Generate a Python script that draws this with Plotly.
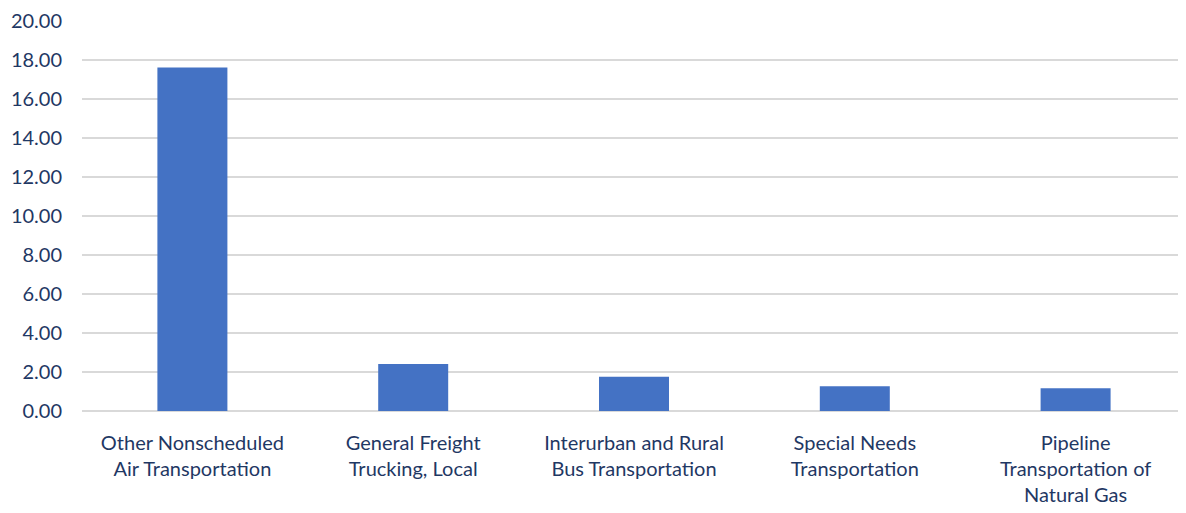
import plotly.graph_objects as go

categories = [
    "Other Nonscheduled<br>Air Transportation",
    "General Freight<br>Trucking, Local",
    "Interurban and Rural<br>Bus Transportation",
    "Special Needs<br>Transportation",
    "Pipeline<br>Transportation of<br>Natural Gas",
]
values = [17.6, 2.41, 1.76, 1.27, 1.16]
y_ticks = [0, 2, 4, 6, 8, 10, 12, 14, 16, 18, 20]

text_color = "#1F3864"
grid_color = "#D9D9D9"
font_family = "Lato, 'Open Sans', sans-serif"

fig = go.Figure(
    go.Bar(
        x=categories,
        y=values,
        marker=dict(color="#4472C4", line=dict(width=0)),
        width=0.317,
    )
)

# page body has an 8px default margin; the figure is sized to fill the rest
fig.update_layout(
    width=1178,
    height=505,
    margin=dict(l=74, r=0, t=12, b=102, autoexpand=False),
    plot_bgcolor="white",
    paper_bgcolor="white",
    showlegend=False,
    font=dict(family=font_family, size=20, color=text_color),
)

fig.update_xaxes(
    automargin=False,
    showgrid=False,
    showline=False,
    ticks="outside",
    ticklen=14,
    tickcolor="rgba(0,0,0,0)",
    tickfont=dict(family=font_family, size=20, color=text_color),
)
fig.update_yaxes(
    automargin=False,
    range=[0, 20.03],
    tickvals=y_ticks,
    ticktext=[f"{v:.2f}" for v in y_ticks],
    ticklabeloverflow="allow",
    showgrid=True,
    gridcolor=grid_color,
    gridwidth=1.5,
    zeroline=True,
    zerolinecolor=grid_color,
    zerolinewidth=1.5,
    showline=False,
    ticks="outside",
    ticklen=15,
    tickcolor="rgba(0,0,0,0)",
    tickfont=dict(family=font_family, size=20, color=text_color),
)

fig.write_html("out.html")
